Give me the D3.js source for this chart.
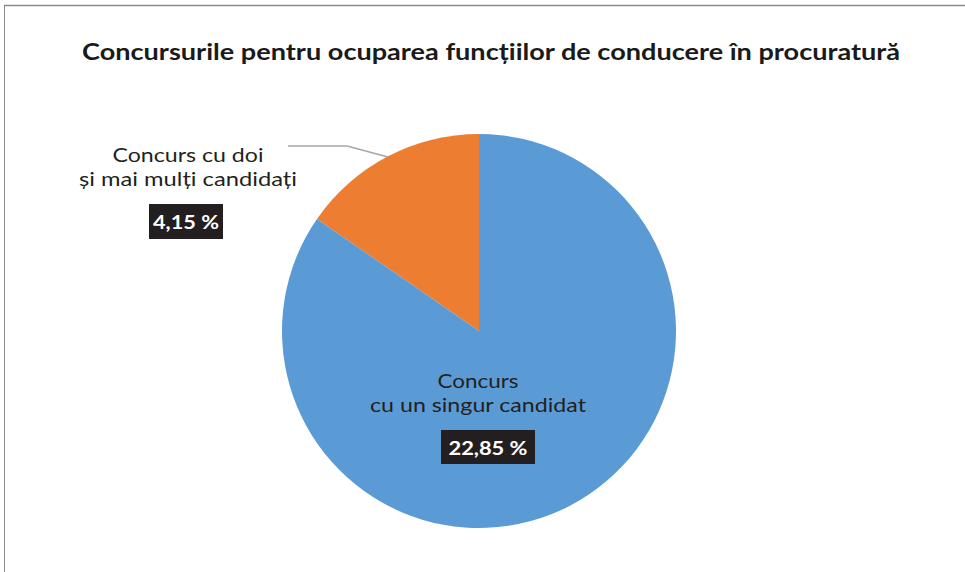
<!DOCTYPE html>
<html><head><meta charset="utf-8">
<script src="https://cdn.jsdelivr.net/npm/d3@7"></script>
<style>html,body{margin:0;padding:0;background:#fff}</style>
</head><body>
<script>
const categories = ["Concurs cu un singur candidat", "Concurs cu doi și mai mulți candidați"];
const values = [22.85, 4.15];
const valueLabels = ["22,85 %", "4,15 %"];
const colors = ["#5B9BD5", "#ED7D31"];
const title = "Concursurile pentru ocuparea funcțiilor de conducere în procuratură";

const W = 965, H = 572;
const svg = d3.select("body").append("svg").attr("width", W).attr("height", H)
  .style("font-family", "Lato, 'Open Sans', sans-serif");

// frame
svg.append("line").attr("x1", 4).attr("x2", W).attr("y1", 5.5).attr("y2", 5.5).attr("stroke", "#8c8c8c").attr("stroke-width", 1.5);
svg.append("line").attr("x1", 4.5).attr("x2", 4.5).attr("y1", 5).attr("y2", H).attr("stroke", "#8c8c8c").attr("stroke-width", 1);

function fit(sel, w) {
  sel.attr("textLength", w).attr("lengthAdjust", "spacingAndGlyphs");
}

const t = svg.append("text").attr("x", 491).attr("y", 60).attr("text-anchor", "middle")
  .attr("font-size", 23.5).attr("font-weight", 700).attr("fill", "#1a1a1a").text(title);
fit(t, 818);

const cx = 479, cy = 331, r = 197;
const total = d3.sum(values);
// pie laid out so the second slice runs counter-clockwise from 12 o'clock
const pie = d3.pie().sort(null).value(d => d)
  .startAngle(-2 * Math.PI * values[1] / total)
  .endAngle(2 * Math.PI - 2 * Math.PI * values[1] / total);
const arcsData = pie([values[1], values[0]]).map((d, k) => ({...d, i: 1 - k}));
const arc = d3.arc().innerRadius(0).outerRadius(r);
const g = svg.append("g").attr("transform", `translate(${cx},${cy})`);
g.selectAll("path").data(arcsData).join("path").attr("d", arc).attr("fill", d => colors[d.i]);

// leader line
svg.append("polyline")
  .attr("points", [[288, 146], [347, 146], [388, 157]].map(p => p.join(",")).join(" "))
  .attr("fill", "none").attr("stroke", "#a6a6a6").attr("stroke-width", 1.5);

function label(x, ys, lines, widths, val, box, valW, valY) {
  lines.forEach((l, k) => {
    const tt = svg.append("text").attr("x", x).attr("y", ys[k]).attr("text-anchor", "middle")
      .attr("font-size", 19).attr("fill", "#231f20").text(l);
    fit(tt, widths[k]);
  });
  svg.append("rect").attr("x", box[0]).attr("y", box[1]).attr("width", box[2]).attr("height", box[3]).attr("fill", "#231f20");
  const vt = svg.append("text").attr("x", box[0] + box[2] / 2).attr("y", valY).attr("text-anchor", "middle")
    .attr("font-size", 19).attr("font-weight", 700).attr("fill", "#fff").text(val);
  fit(vt, valW);
}
label(188, [162, 185.5], ["Concurs cu doi", "și mai mulți candidați"], [151, 218], valueLabels[1], [149, 204, 74, 35], 66, 228.5);
label(478, [388, 412], ["Concurs", "cu un singur candidat"], [81, 216], valueLabels[0], [441, 430, 94, 34], 79, 455);
</script>
</body></html>
